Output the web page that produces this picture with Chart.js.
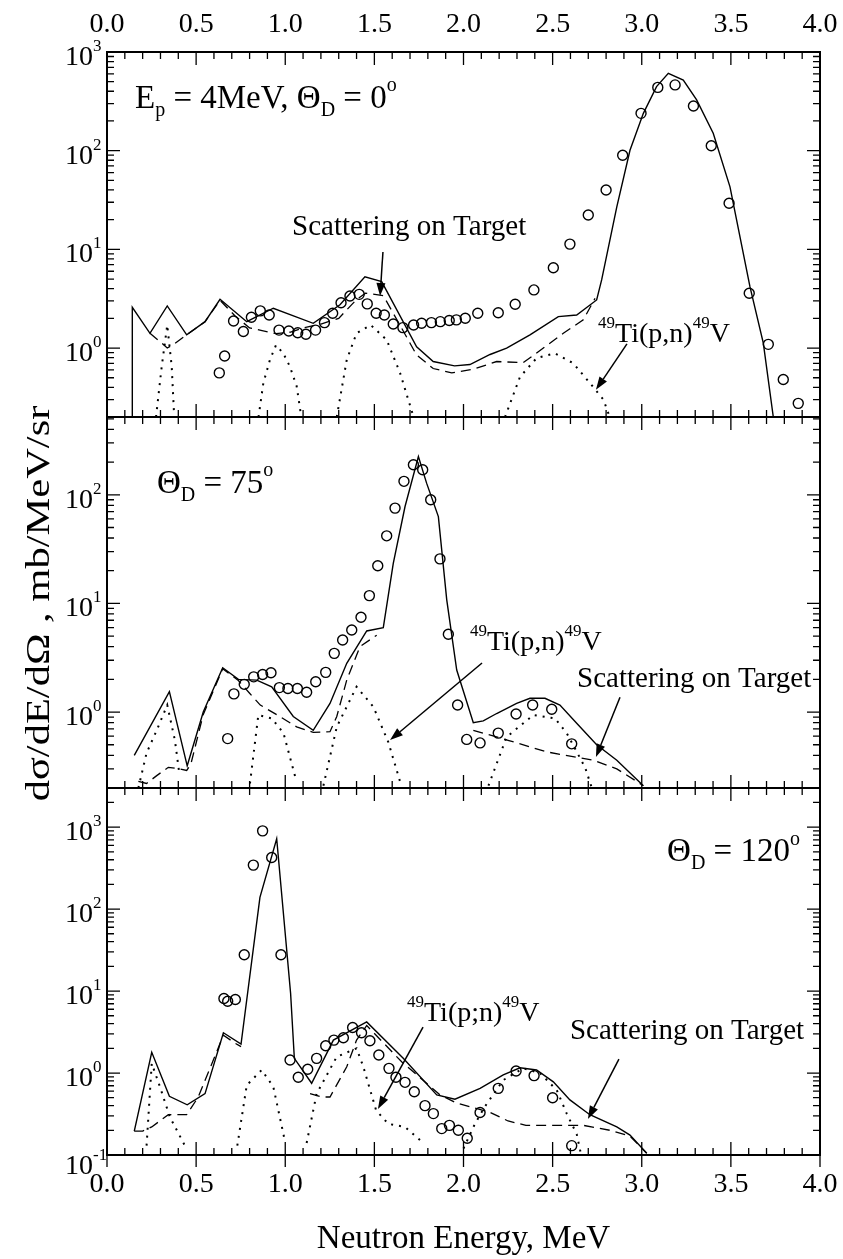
<!DOCTYPE html>
<html>
<head>
<meta charset="utf-8">
<script src="https://cdn.jsdelivr.net/npm/chart.js@4.4.0/dist/chart.umd.min.js"></script>
<style>
  html, body { margin: 0; padding: 0; background: #fff; }
  canvas { display: block; }
</style>
</head>
<body>
<canvas id="spectra" width="843" height="1259"></canvas>
<script>
// ---- tick labels ----
const energyTicks = ['0.0', '0.5', '1.0', '1.5', '2.0', '2.5', '3.0', '3.5', '4.0'];
const p1Decades = [0, 1, 2, 3];
const p2Decades = [0, 1, 2];
const p3Decades = [-1, 0, 1, 2, 3];

// ---- panel 1 : Ep = 4 MeV, 0 deg ----
const p1ExpE = [0.63, 0.66, 0.71, 0.765, 0.81, 0.86, 0.91, 0.965, 1.02, 1.07, 1.116, 1.17, 1.22, 1.266, 1.313, 1.363, 1.415, 1.46, 1.51, 1.556, 1.606, 1.66, 1.72, 1.765, 1.82, 1.87, 1.92, 1.96, 2.01, 2.08, 2.195, 2.29, 2.395, 2.504, 2.597, 2.70, 2.80, 2.893, 2.996, 3.09, 3.187, 3.29, 3.39, 3.49, 3.603, 3.71, 3.794, 3.878];
const p1ExpV = [0.56, 0.83, 1.88, 1.47, 2.05, 2.38, 2.16, 1.52, 1.49, 1.43, 1.38, 1.52, 1.81, 2.25, 2.88, 3.37, 3.5, 2.8, 2.25, 2.16, 1.75, 1.61, 1.71, 1.78, 1.81, 1.85, 1.90, 1.93, 2.0, 2.25, 2.28, 2.78, 3.88, 6.5, 11.3, 22.3, 40, 90, 239, 438, 464, 284, 112, 29.3, 3.59, 1.09, 0.48, 0.275];
const p1TotE = [0.142, 0.142, 0.241, 0.338, 0.447, 0.55, 0.634, 0.784, 0.933, 1.157, 1.307, 1.447, 1.541, 1.737, 1.83, 1.95, 2.036, 2.149, 2.242, 2.373, 2.532, 2.635, 2.747, 2.775, 2.86, 2.934, 3.009, 3.083, 3.149, 3.233, 3.308, 3.401, 3.495, 3.607, 3.682, 3.738];
const p1TotV = [0.2, 2.59, 1.41, 2.67, 1.36, 1.85, 3.12, 1.85, 2.53, 1.78, 2.74, 5.28, 4.71, 1.03, 0.73, 0.66, 0.68, 0.86, 1.0, 1.36, 2.08, 2.16, 3.07, 4.9, 27, 101, 239, 446, 608, 520, 327, 150, 43, 4.19, 1.12, 0.2];
const p1ScatE = [0.241, 0.30, 0.338, 0.377, 0.447, 0.55, 0.634, 0.72, 0.80, 0.87, 0.948, 1.03, 1.10, 1.2, 1.3, 1.40, 1.45, 1.55, 1.644, 1.737, 1.83, 1.934, 2.055, 2.186, 2.335, 2.448, 2.56, 2.672, 2.738];
const p1ScatV = [1.41, 1.15, 1.0, 1.1, 1.36, 1.85, 3.05, 2.1, 1.6, 1.5, 1.4, 1.45, 1.6, 1.75, 2.0, 3.1, 3.6, 3.4, 1.7, 0.85, 0.62, 0.56, 0.61, 0.73, 0.71, 1.0, 1.41, 1.93, 3.19];
const p1TiE = [0.275, 0.307, 0.338, 0.363, 0.377, 0.377, 0.85, 0.877, 0.914, 0.948, 0.989, 1.026, 1.064, 1.09, 1.09, 1.289, 1.345, 1.40, 1.48, 1.569, 1.644, 1.72, 1.72, 2.233, 2.317, 2.41, 2.513, 2.616, 2.71, 2.785, 2.82];
const p1TiV = [0.2, 0.65, 1.71, 0.65, 0.2, null, 0.2, 0.44, 0.76, 1.07, 0.885, 0.65, 0.41, 0.2, null, 0.2, 0.76, 1.41, 1.71, 1.21, 0.56, 0.2, null, 0.2, 0.51, 0.79, 0.885, 0.70, 0.44, 0.3, 0.2];

// ---- panel 2 : 75 deg ----
const p2ExpE = [0.677, 0.712, 0.77, 0.823, 0.873, 0.92, 0.967, 1.015, 1.068, 1.12, 1.171, 1.227, 1.275, 1.322, 1.373, 1.425, 1.472, 1.519, 1.569, 1.616, 1.666, 1.719, 1.771, 1.816, 1.868, 1.915, 1.967, 2.018, 2.093, 2.195, 2.295, 2.388, 2.495, 2.607];
const p2ExpV = [0.57, 1.47, 1.8, 2.11, 2.22, 2.3, 1.68, 1.65, 1.65, 1.52, 1.9, 2.32, 3.47, 4.61, 5.7, 7.46, 11.8, 22.2, 41.9, 75.4, 133, 189, 170, 90, 25.7, 5.2, 1.16, 0.56, 0.52, 0.64, 0.96, 1.16, 1.06, 0.51];
const p2TotE = [0.153, 0.35, 0.45, 0.54, 0.649, 0.737, 0.84, 0.924, 1.045, 1.157, 1.251, 1.345, 1.457, 1.55, 1.606, 1.672, 1.747, 1.793, 1.859, 1.906, 1.962, 2.055, 2.111, 2.186, 2.298, 2.373, 2.457, 2.541, 2.635, 2.747, 2.86, 3.009];
const p2TotV = [0.40, 1.54, 0.32, 1.0, 2.56, 2.0, 1.97, 1.71, 0.91, 0.68, 1.2, 2.81, 5.58, 5.99, 23.4, 78, 225, 128, 63, 10.8, 2.44, 0.80, 0.83, 0.97, 1.2, 1.34, 1.34, 1.16, 0.79, 0.50, 0.36, 0.21];
const p2ScatE = [0.176, 0.222, 0.279, 0.344, 0.406, 0.447, 0.47, 0.54, 0.649, 0.737, 0.80, 0.86, 0.97, 1.064, 1.157, 1.251, 1.289, 1.345, 1.419, 1.513, 1.513, 2.055, 2.25, 2.467, 2.728, 2.86, 3.009];
const p2ScatV = [0.23, 0.22, 0.26, 0.31, 0.30, 0.29, 0.33, 0.95, 2.5, 1.95, 1.49, 1.16, 0.91, 0.73, 0.65, 0.66, 0.91, 1.97, 4.0, 5.1, null, 0.68, 0.55, 0.43, 0.36, 0.30, 0.21];
const p2TiE = [0.176, 0.222, 0.279, 0.338, 0.381, 0.406, 0.406, 0.802, 0.849, 0.924, 0.99, 1.06, 1.06, 1.214, 1.289, 1.4, 1.494, 1.578, 1.644, 1.644, 2.14, 2.242, 2.392, 2.513, 2.579, 2.682, 2.72];
const p2TiV = [0.2, 0.42, 0.68, 1.16, 0.55, 0.27, null, 0.22, 0.94, 0.875, 0.64, 0.24, null, 0.21, 0.73, 1.71, 1.12, 0.53, 0.23, null, 0.21, 0.59, 0.94, 0.875, 0.64, 0.31, 0.2];

// ---- panel 3 : 120 deg ----
const p3ExpE = [0.656, 0.677, 0.72, 0.77, 0.821, 0.873, 0.924, 0.976, 1.027, 1.073, 1.126, 1.176, 1.227, 1.273, 1.326, 1.378, 1.428, 1.475, 1.525, 1.582, 1.621, 1.672, 1.724, 1.784, 1.831, 1.878, 1.921, 1.971, 2.021, 2.093, 2.195, 2.295, 2.396, 2.5, 2.607];
const p3ExpV = [8.1, 7.5, 7.9, 27.7, 344, 900, 425, 27.7, 1.44, 0.89, 1.11, 1.51, 2.15, 2.52, 2.69, 3.6, 3.1, 2.48, 1.66, 1.14, 0.89, 0.77, 0.59, 0.40, 0.32, 0.21, 0.23, 0.20, 0.16, 0.33, 0.65, 1.06, 0.93, 0.50, 0.13];
const p3TotE = [0.153, 0.251, 0.35, 0.45, 0.55, 0.653, 0.752, 0.858, 0.952, 1.03, 1.051, 1.148, 1.27, 1.457, 1.662, 1.85, 1.952, 2.093, 2.223, 2.317, 2.41, 2.504, 2.597, 2.709, 2.86, 2.934, 3.028];
const p3TotV = [0.196, 1.79, 0.52, 0.41, 0.56, 3.1, 2.26, 139, 720, 9.4, 1.51, 0.75, 2.52, 4.2, 1.51, 0.54, 0.48, 0.65, 0.95, 1.16, 1.09, 0.78, 0.47, 0.31, 0.22, 0.175, 0.105];
const p3ScatE = [0.153, 0.20, 0.251, 0.344, 0.447, 0.512, 0.60, 0.653, 0.72, 0.752, 0.752, 1.139, 1.204, 1.251, 1.345, 1.4, 1.457, 1.653, 1.869, 1.962, 2.05, 2.15, 2.25, 2.35, 2.5, 2.672, 2.822, 2.934, 3.028];
const p3ScatV = [0.196, 0.196, 0.22, 0.31, 0.31, 0.51, 1.5, 2.9, 2.3, 2.1, null, 0.56, 0.51, 0.51, 1.19, 2.52, 3.8, 1.37, 0.54, 0.43, 0.38, 0.33, 0.26, 0.23, 0.23, 0.23, 0.20, 0.17, 0.105];
const p3TiE = [0.222, 0.251, 0.297, 0.353, 0.437, 0.437, 0.731, 0.784, 0.868, 0.933, 0.999, 0.999, 1.12, 1.176, 1.289, 1.4, 1.438, 1.51, 1.578, 1.672, 1.775, 1.775, 2.0, 2.064, 2.12, 2.223, 2.335, 2.429, 2.523, 2.579, 2.635, 2.66];
const p3TiV = [0.13, 1.31, 0.68, 0.29, 0.13, null, 0.13, 0.71, 1.09, 0.68, 0.145, null, 0.14, 0.56, 1.58, 2.0, 1.19, 0.35, 0.24, 0.22, 0.14, null, 0.12, 0.24, 0.39, 0.82, 1.14, 1.0, 0.62, 0.32, 0.18, 0.1];

// ---- annotations, in data coordinates of each panel ----
const notes = [
  { axis: 'y1', x: 0.157, y: 271, size: 33, parts: [['E'], ['p', -1], [' = 4MeV, \u0398'], ['D', -1], [' = 0'], ['o', 1]] },
  { axis: 'y1', x: 1.038, y: 14, size: 29, parts: [['Scattering on Target']] },
  { axis: 'y1', x: 2.755, y: 1.15, size: 28, parts: [['49', 1], ['Ti(p,n)'], ['49', 1], ['V']] },
  { axis: 'y2', x: 0.28, y: 104, size: 33, parts: [['\u0398'], ['D', -1], [' = 75'], ['o', 1]] },
  { axis: 'y2', x: 2.036, y: 3.72, size: 28, parts: [['49', 1], ['Ti(p,n)'], ['49', 1], ['V']] },
  { axis: 'y2', x: 2.637, y: 1.70, size: 29, parts: [['Scattering on Target']] },
  { axis: 'y3', x: 3.142, y: 385, size: 33, parts: [['\u0398'], ['D', -1], [' = 120'], ['o', 1]] },
  { axis: 'y3', x: 1.683, y: 4.3, size: 28, parts: [['49', 1], ['Ti(p;n)'], ['49', 1], ['V']] },
  { axis: 'y3', x: 2.597, y: 2.6, size: 29, parts: [['Scattering on Target']] }
];
const arrows = [
  { axis: 'y1', from: [1.548, 9.4], to: [1.532, 3.37] },
  { axis: 'y1', from: [2.917, 1.10], to: [2.743, 0.377] },
  { axis: 'y2', from: [2.104, 2.83], to: [1.588, 0.552] },
  { axis: 'y2', from: [2.878, 1.37], to: [2.743, 0.385] },
  { axis: 'y3', from: [1.773, 3.64], to: [1.52, 0.364] },
  { axis: 'y3', from: [2.872, 1.48], to: [2.698, 0.275] }
];

const FONT = '"Liberation Serif", "Times New Roman", serif';

function pts(es, vs) {
  return es.map((e, i) => ({ x: e, y: vs[i] }));
}
function expSet(es, vs, axis) {
  return {
    data: pts(es, vs), yAxisID: axis, showLine: false,
    pointRadius: 5, pointBorderWidth: 1.4, pointBorderColor: '#000',
    pointBackgroundColor: 'rgba(0,0,0,0)'
  };
}
function curve(es, vs, axis, dash, width) {
  return {
    data: pts(es, vs), yAxisID: axis, borderColor: '#000', borderWidth: width,
    borderDash: dash, pointRadius: 0, spanGaps: false, tension: 0
  };
}

function richText(ctx, parts, x, y, size) {
  const pieces = parts.map(p => {
    const k = p[1] || 0;
    const s = k === 0 ? size : Math.round(size * 0.6);
    ctx.font = s + 'px ' + FONT;
    return { t: p[0], k: k, s: s, w: ctx.measureText(p[0]).width };
  });
  let cx = x;
  ctx.textAlign = 'left';
  ctx.textBaseline = 'alphabetic';
  pieces.forEach(p => {
    ctx.font = p.s + 'px ' + FONT;
    const dy = p.k === 1 ? -size * 0.5 : p.k === -1 ? size * 0.25 : 0;
    ctx.fillText(p.t, cx, y + dy);
    cx += p.w;
  });
}

const frame = {
  id: 'frame',
  afterDraw(chart) {
    const { ctx, scales } = chart;
    const xs = scales.x;
    const panels = [[scales.y1, p1Decades], [scales.y2, p2Decades], [scales.y3, p3Decades]];
    const L = xs.left, R = xs.right;
    ctx.save();
    ctx.strokeStyle = '#000';
    ctx.fillStyle = '#000';

    panels.forEach(([ys, decades], pi) => {
      const T = ys.top, B = ys.bottom;
      ctx.lineWidth = 1.3;
      ctx.beginPath();
      for (let k = 0; k <= 40; k++) {
        const px = xs.getPixelForValue(k / 10);
        const len = k % 5 === 0 ? 13 : 7;
        ctx.moveTo(px, T); ctx.lineTo(px, T + len);
        ctx.moveTo(px, B); ctx.lineTo(px, B - len);
        if (pi === 2 && k % 5 === 0) { ctx.moveTo(px, B); ctx.lineTo(px, B + 12); }
      }
      const e0 = Math.floor(Math.log10(ys.min)), e1 = Math.ceil(Math.log10(ys.max));
      for (let e = e0; e <= e1; e++) {
        for (let m = 1; m <= 9; m++) {
          const v = m * Math.pow(10, e);
          if (v < ys.min * 0.999 || v > ys.max * 1.001) continue;
          const py = ys.getPixelForValue(v);
          const len = m === 1 ? 13 : 7;
          ctx.moveTo(L, py); ctx.lineTo(L + len, py);
          ctx.moveTo(R, py); ctx.lineTo(R - len, py);
        }
      }
      ctx.stroke();
      ctx.lineWidth = 2;
      ctx.strokeRect(L, T, R - L, B - T);

      decades.forEach(d => {
        const py = ys.getPixelForValue(Math.pow(10, d));
        const base = d < 0 ? py + 19 : py + 13;
        ctx.font = '28px ' + FONT;
        ctx.textAlign = 'right';
        ctx.textBaseline = 'alphabetic';
        ctx.fillText('10', 93, base);
        ctx.font = '17px ' + FONT;
        ctx.textAlign = 'left';
        ctx.fillText(String(d), 93, base - 14);
      });
    });

    ctx.font = '28px ' + FONT;
    ctx.textAlign = 'center';
    ctx.textBaseline = 'alphabetic';
    energyTicks.forEach(t => {
      const px = xs.getPixelForValue(parseFloat(t));
      ctx.fillText(t, px, scales.y1.top - 20);
      ctx.fillText(t, px, scales.y3.bottom + 37);
    });

    ctx.font = '33px ' + FONT;
    ctx.fillText('Neutron Energy, MeV', (L + R) / 2, 1248);
    // y title, stretched along its length like the scanned original
    ctx.save();
    ctx.translate(40, (scales.y1.top + scales.y3.bottom) / 2);
    ctx.rotate(-Math.PI / 2);
    ctx.scale(1.25, 1);
    ctx.font = '34px ' + FONT;
    ctx.textBaseline = 'middle';
    ctx.fillText('d\u03c3/dE/d\u03a9 , mb/MeV/sr', 0, 0);
    ctx.restore();

    notes.forEach(n => {
      const ys = scales[n.axis];
      richText(ctx, n.parts, xs.getPixelForValue(n.x), ys.getPixelForValue(n.y), n.size);
    });

    ctx.lineWidth = 1.5;
    arrows.forEach(a => {
      const ys = scales[a.axis];
      const x0 = xs.getPixelForValue(a.from[0]), y0 = ys.getPixelForValue(a.from[1]);
      const x1 = xs.getPixelForValue(a.to[0]), y1 = ys.getPixelForValue(a.to[1]);
      const ang = Math.atan2(y1 - y0, x1 - x0);
      const hl = 13, hw = 4.5;
      const bx = x1 - hl * Math.cos(ang), by = y1 - hl * Math.sin(ang);
      ctx.beginPath();
      ctx.moveTo(x0, y0); ctx.lineTo(bx, by);
      ctx.stroke();
      ctx.beginPath();
      ctx.moveTo(x1, y1);
      ctx.lineTo(bx + hw * Math.sin(ang), by - hw * Math.cos(ang));
      ctx.lineTo(bx - hw * Math.sin(ang), by + hw * Math.cos(ang));
      ctx.closePath();
      ctx.fill();
    });
    ctx.restore();
  }
};

const DASH = [10, 6];
const DOT = [2, 6];

new Chart(document.getElementById('spectra'), {
  type: 'line',
  data: {
    datasets: [
      expSet(p1ExpE, p1ExpV, 'y1'),
      curve(p1TotE, p1TotV, 'y1', [], 1.4),
      curve(p1ScatE, p1ScatV, 'y1', DASH, 1.3),
      curve(p1TiE, p1TiV, 'y1', DOT, 2),
      expSet(p2ExpE, p2ExpV, 'y2'),
      curve(p2TotE, p2TotV, 'y2', [], 1.4),
      curve(p2ScatE, p2ScatV, 'y2', DASH, 1.3),
      curve(p2TiE, p2TiV, 'y2', DOT, 2),
      expSet(p3ExpE, p3ExpV, 'y3'),
      curve(p3TotE, p3TotV, 'y3', [], 1.4),
      curve(p3ScatE, p3ScatV, 'y3', DASH, 1.3),
      curve(p3TiE, p3TiV, 'y3', DOT, 2)
    ]
  },
  options: {
    responsive: false,
    animation: false,
    devicePixelRatio: 1,
    events: [],
    layout: { padding: { left: 107, right: 23, top: 52, bottom: 104 } },
    plugins: { legend: { display: false }, tooltip: { enabled: false } },
    scales: {
      x: { type: 'linear', min: 0, max: 4, display: false },
      y1: { type: 'logarithmic', min: 0.2, max: 1000, position: 'left', stack: 'panels', stackWeight: 365, weight: 3, display: false },
      y2: { type: 'logarithmic', min: 0.2, max: 520, position: 'left', stack: 'panels', stackWeight: 371, weight: 2, display: false },
      y3: { type: 'logarithmic', min: 0.1, max: 3000, position: 'left', stack: 'panels', stackWeight: 367, weight: 1, display: false }
    }
  },
  plugins: [frame]
});
</script>
</body>
</html>
